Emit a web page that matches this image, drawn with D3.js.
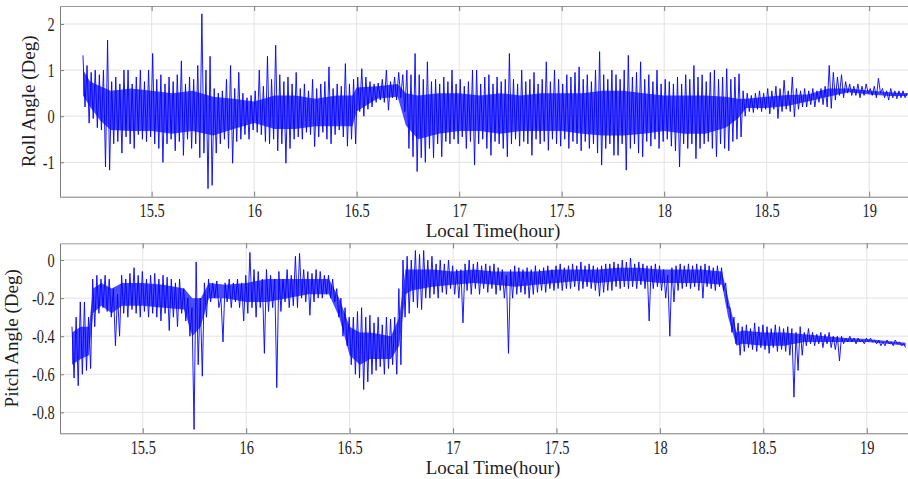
<!DOCTYPE html>
<html>
<head>
<meta charset="utf-8">
<script src="https://cdn.jsdelivr.net/npm/d3@7"></script>
<style>
  html, body { margin: 0; padding: 0; background: #fff; }
  svg { display: block; font-family: "Liberation Serif", "Times New Roman", serif; }
</style>
</head>
<body>
<svg id="chart" width="908" height="479"></svg>
<script>
// Attitude record: each bin holds the highest and lowest sample seen in it.
const binStep = 0.02; // hours per bin

// Roll angle (deg), bins start at 15.165 h
const rollStart = 15.165;
const rollHigh = [
  1.32, 1.1, 0.95, 1.0, 0.9, 1.0, 1.65, 0.75, 0.85, 0.7,
  1.0, 1.0, 0.7, 0.85, 1.0, 0.75, 1.0, 1.36, 0.8, 0.9,
  0.7, 0.85, 0.75, 0.9, 1.2, 0.7, 0.85, 0.8, 1.1, 2.22,
  1.0, 1.3, 0.6, 0.5, 0.55, 0.8, 1.1, 0.6, 0.95, 0.5,
  0.4, 0.45, 0.55, 1.0, 0.65, 1.3, 0.8, 1.54, 0.9, 0.75,
  0.85, 0.7, 0.95, 0.6, 0.7, 0.55, 0.8, 0.6, 0.7, 0.75,
  1.07, 0.6, 0.7, 0.65, 1.14, 0.7, 0.8, 0.85, 1.03, 0.85,
  0.75, 0.7, 0.72, 0.8, 1.0, 0.75, 0.85, 0.95, 0.9, 1.0,
  0.9, 1.36, 0.9, 0.8, 1.18, 0.75, 0.8, 0.7, 0.85, 0.75,
  1.0, 0.7, 0.8, 0.65, 0.75, 1.0, 1.0, 0.7, 0.85, 0.9,
  0.7, 0.85, 0.75, 0.8, 1.36, 0.8, 0.7, 1.0, 0.75, 0.8,
  0.95, 0.7, 0.8, 1.18, 0.75, 1.0, 0.8, 0.7, 0.9, 0.85,
  0.95, 1.07, 0.8, 0.9, 0.75, 1.0, 1.4, 0.9, 0.8, 1.0,
  0.9, 0.8, 1.0, 1.32, 0.85, 0.95, 1.18, 0.8, 0.9, 0.75,
  1.0, 0.7, 0.8, 0.75, 0.7, 0.85, 0.7, 0.9, 0.8, 1.1,
  0.85, 0.9, 0.75, 0.95, 1.0, 0.8, 0.85, 1.03, 0.8, 0.85,
  0.92, 0.55, 0.5, 0.45, 0.5, 0.55, 0.5, 0.6, 0.55, 0.65,
  0.6, 0.78, 0.55, 0.85, 0.6, 0.55, 0.6, 0.55, 0.6, 0.55,
  0.6, 0.65, 1.1, 0.95, 0.85, 0.9, 0.75, 0.7, 0.65, 0.7,
  0.65, 0.7, 0.6, 0.65, 0.82, 0.6, 0.55, 0.6, 0.55, 0.55,
  0.55, 0.5
];
const rollLow = [
  0.2, -0.15, -0.05, -0.25, -0.3, -1.1, -1.17, -0.6, -0.55, -0.8,
  -0.45, -0.6, -0.7, -0.4, -0.5, -0.55, -0.45, -0.6, -0.7, -1.0,
  -0.6, -0.5, -0.75, -0.55, -0.85, -0.5, -0.7, -0.6, -0.9, -0.8,
  -1.57, -1.5, -0.8, -0.6, -0.5, -0.7, -1.02, -0.55, -0.5, -0.4,
  -0.5, -0.3, -0.35, -0.4, -0.55, -0.6, -0.5, -0.75, -0.6, -1.02,
  -0.7, -0.5, -0.45, -0.5, -0.35, -0.4, -0.66, -0.45, -0.35, -0.5,
  -0.6, -0.4, -0.3, -0.45, -0.65, -0.5, -0.6, 0.1, 0.0, 0.15,
  0.2, 0.3, 0.35, 0.3, 0.13, 0.4, 0.35, 0.4, 0.1, -0.7,
  -0.88, -1.2, -0.9, -1.0, -0.7, -0.9, -0.6, -0.88, -0.55, -0.6,
  -0.5, -0.6, -0.45, -0.7, -0.55, -1.06, -0.6, -0.5, -0.7, -0.85,
  -0.55, -0.6, -0.7, -0.88, -0.6, -0.5, -0.65, -0.55, -0.6, -0.85,
  -0.5, -0.6, -0.55, -0.74, -0.5, -0.6, -0.65, -0.5, -0.7, -0.55,
  -0.6, -0.75, -0.55, -0.7, -0.6, -0.8, -1.06, -0.7, -0.6, -0.85,
  -0.85, -0.6, -1.17, -0.7, -0.6, -0.8, -0.88, -0.55, -0.65, -0.5,
  -0.7, -0.55, -0.5, -0.65, -0.75, -1.1, -0.6, -0.7, -0.6, -0.92,
  -0.7, -0.6, -0.55, -0.7, -0.88, -0.6, -0.7, -0.75, -0.55, -0.5,
  -0.45, 0.0, 0.1, 0.08, 0.15, 0.1, 0.15, 0.05, 0.15, -0.05,
  0.1, 0.15, 0.1, -0.01, 0.15, 0.2, 0.2, 0.25, 0.2, 0.3,
  0.25, 0.2, 0.17, 0.35, 0.45, 0.4, 0.5, 0.45, 0.45, 0.4,
  0.45, 0.5, 0.45, 0.4, 0.5, 0.4, 0.35, 0.4, 0.38, 0.4,
  0.4, 0.42
];
// Dense core of the roll trace (where most samples fall)
const rollCoreTime = [15.165, 15.2, 15.25, 15.3, 15.4, 15.5, 15.6, 15.7, 15.8, 15.9,
  16.0, 16.1, 16.2, 16.3, 16.4, 16.48, 16.5, 16.6, 16.7, 16.74, 16.8, 16.9,
  17.0, 17.1, 17.2, 17.3, 17.4, 17.5, 17.6, 17.7, 17.8, 17.9, 18.0, 18.1,
  18.2, 18.3, 18.36, 18.4, 18.5, 18.6, 18.7, 18.8, 18.9, 19.0, 19.1, 19.185];
const rollCoreHigh = [1.0, 0.75, 0.65, 0.55, 0.6, 0.55, 0.5, 0.55, 0.42, 0.38,
  0.32, 0.45, 0.45, 0.38, 0.45, 0.45, 0.62, 0.65, 0.7, 0.5, 0.45, 0.5,
  0.5, 0.45, 0.5, 0.45, 0.5, 0.5, 0.5, 0.55, 0.55, 0.5, 0.45, 0.45,
  0.45, 0.42, 0.38, 0.38, 0.42, 0.46, 0.47, 0.6, 0.6, 0.56, 0.52, 0.5];
const rollCoreLow = [0.45, 0.2, -0.1, -0.3, -0.32, -0.32, -0.38, -0.32, -0.42, -0.28,
  -0.15, -0.28, -0.28, -0.22, -0.22, -0.22, 0.1, 0.38, 0.42, -0.2, -0.5, -0.38,
  -0.32, -0.32, -0.38, -0.32, -0.32, -0.32, -0.38, -0.42, -0.42, -0.38, -0.32, -0.38,
  -0.38, -0.25, -0.05, 0.18, 0.18, 0.22, 0.32, 0.42, 0.52, 0.47, 0.44, 0.44];

// Pitch angle (deg), bins start at 15.158 h
const pitchStart = 15.158;
const pitchHigh = [
  -0.35, -0.3, -0.22, -0.22, -0.3, -0.1, -0.08, -0.1, -0.08, -0.1,
  -0.15, -0.18, -0.08, -0.1, -0.07, -0.04, -0.08, -0.06, -0.1, -0.08,
  -0.07, -0.1, -0.08, -0.09, -0.1, -0.12, -0.1, -0.15, -0.2, -0.25,
  -0.01, -0.2, -0.12, -0.1, -0.12, -0.11, -0.2, -0.12, -0.1, -0.12,
  -0.1, -0.12, -0.08, 0.04, -0.05, -0.06, -0.1, -0.05, -0.08, -0.1,
  -0.06, -0.1, -0.05, -0.08, 0.02, 0.035, -0.05, -0.06, -0.07, -0.05,
  -0.06, -0.08, -0.08, -0.1, -0.15, -0.2, -0.25, -0.3, -0.3, -0.27,
  -0.25, -0.3, -0.29, -0.33, -0.3, -0.34, -0.3, -0.31, -0.3, -0.15,
  0.0, 0.02, 0.0, 0.05, 0.03, 0.05, 0.0, 0.02, -0.02, 0.0,
  -0.02, 0.0, -0.03, -0.05, -0.05, -0.02, 0.0, -0.02, -0.01, -0.03,
  -0.02, -0.03, -0.02, -0.04, -0.05, -0.08, -0.05, -0.03, -0.04, -0.05,
  -0.04, -0.05, -0.03, -0.05, -0.04, -0.03, -0.05, -0.03, -0.02, -0.04,
  -0.03, -0.02, -0.03, -0.01, -0.03, -0.02, -0.03, -0.04, -0.03, -0.02,
  -0.02, -0.01, -0.02, 0.0, -0.01, 0.01, -0.02, -0.01, -0.02, -0.03,
  -0.03, -0.02, -0.03, -0.05, -0.08, -0.04, -0.03, -0.02, -0.03, -0.02,
  -0.03, -0.02, -0.03, -0.02, -0.03, -0.04, -0.03, -0.04, -0.12, -0.25,
  -0.3, -0.33, -0.35, -0.34, -0.36, -0.33, -0.35, -0.34, -0.35, -0.36,
  -0.34, -0.35, -0.36, -0.35, -0.36, -0.38, -0.35, -0.38, -0.36, -0.38,
  -0.39, -0.38, -0.39, -0.38, -0.4, -0.4, -0.4, -0.41, -0.4, -0.41,
  -0.41, -0.42, -0.41, -0.41, -0.42, -0.42, -0.43, -0.42, -0.43, -0.42,
  -0.43, -0.44
];
const pitchLow = [
  -0.62, -0.66, -0.6, -0.58, -0.57, -0.35, -0.28, -0.25, -0.27, -0.3,
  -0.45, -0.4, -0.28, -0.3, -0.26, -0.28, -0.3, -0.27, -0.3, -0.28,
  -0.3, -0.32, -0.28, -0.37, -0.3, -0.35, -0.28, -0.32, -0.4, -0.89,
  -0.55, -0.61, -0.3, -0.22, -0.2, -0.25, -0.43, -0.22, -0.25, -0.22,
  -0.25, -0.32, -0.28, -0.25, -0.3, -0.25, -0.49, -0.27, -0.25, -0.67,
  -0.27, -0.22, -0.25, -0.24, -0.25, -0.2, -0.22, -0.29, -0.22, -0.2,
  -0.2, -0.18, -0.2, -0.22, -0.3, -0.4, -0.45, -0.55, -0.6, -0.62,
  -0.68, -0.64, -0.6, -0.58, -0.56, -0.6, -0.57, -0.55, -0.6, -0.55,
  -0.3, -0.28, -0.22, -0.25, -0.26, -0.2, -0.2, -0.18, -0.2, -0.17,
  -0.18, -0.15, -0.18, -0.2, -0.33, -0.16, -0.18, -0.15, -0.18, -0.15,
  -0.17, -0.15, -0.18, -0.16, -0.2, -0.49, -0.2, -0.18, -0.17, -0.18,
  -0.2, -0.18, -0.17, -0.16, -0.17, -0.15, -0.16, -0.15, -0.16, -0.15,
  -0.15, -0.14, -0.16, -0.15, -0.14, -0.15, -0.16, -0.19, -0.17, -0.16,
  -0.16, -0.14, -0.15, -0.14, -0.15, -0.14, -0.15, -0.13, -0.15, -0.32,
  -0.15, -0.14, -0.16, -0.2, -0.4, -0.22, -0.16, -0.15, -0.14, -0.15,
  -0.14, -0.16, -0.2, -0.14, -0.15, -0.16, -0.14, -0.16, -0.25, -0.38,
  -0.44, -0.5, -0.48, -0.46, -0.47, -0.48, -0.46, -0.47, -0.49, -0.46,
  -0.48, -0.47, -0.48, -0.5, -0.72, -0.58, -0.5, -0.45, -0.44, -0.45,
  -0.44, -0.46, -0.44, -0.46, -0.47, -0.53, -0.44, -0.43, -0.43, -0.44,
  -0.43, -0.44, -0.43, -0.43, -0.44, -0.45, -0.45, -0.44, -0.45, -0.44,
  -0.45, -0.46
];
// Dense core of the pitch trace
const pitchCoreTime = [15.158, 15.2, 15.24, 15.26, 15.3, 15.35, 15.4, 15.5, 15.6, 15.7,
  15.74, 15.78, 15.82, 15.9, 16.0, 16.1, 16.2, 16.3, 16.4, 16.45, 16.5, 16.55,
  16.6, 16.7, 16.74, 16.77, 16.8, 16.9, 17.0, 17.1, 17.2, 17.3, 17.4, 17.5,
  17.6, 17.7, 17.8, 17.9, 18.0, 18.1, 18.2, 18.3, 18.33, 18.37, 18.4, 18.5,
  18.6, 18.7, 18.8, 18.9, 19.0, 19.1, 19.188];
const pitchCoreHigh = [-0.38, -0.35, -0.35, -0.15, -0.12, -0.15, -0.12, -0.12, -0.13, -0.15,
  -0.2, -0.2, -0.12, -0.13, -0.12, -0.1, -0.1, -0.1, -0.1, -0.2, -0.35, -0.38,
  -0.38, -0.4, -0.3, -0.05, -0.05, -0.05, -0.06, -0.05, -0.06, -0.06, -0.06, -0.05,
  -0.05, -0.05, -0.04, -0.04, -0.05, -0.05, -0.05, -0.06, -0.2, -0.38, -0.37, -0.38,
  -0.38, -0.39, -0.4, -0.41, -0.415, -0.425, -0.435];
const pitchCoreLow = [-0.55, -0.52, -0.5, -0.28, -0.24, -0.28, -0.24, -0.24, -0.25, -0.26,
  -0.4, -0.35, -0.2, -0.2, -0.22, -0.22, -0.2, -0.18, -0.18, -0.3, -0.5, -0.55,
  -0.52, -0.52, -0.45, -0.18, -0.16, -0.14, -0.13, -0.12, -0.13, -0.14, -0.13, -0.12,
  -0.11, -0.12, -0.11, -0.11, -0.12, -0.12, -0.12, -0.13, -0.3, -0.45, -0.44, -0.45,
  -0.45, -0.43, -0.43, -0.43, -0.43, -0.44, -0.45];

// Axis ticks and labels
const timeTicks = [15.5, 16, 16.5, 17, 17.5, 18, 18.5, 19];
const timeTickLabels = ["15.5", "16", "16.5", "17", "17.5", "18", "18.5", "19"];
const rollTicks = [-1, 0, 1, 2];
const rollTickLabels = ["-1", "0", "1", "2"];
const pitchTicks = [-0.8, -0.6, -0.4, -0.2, 0];
const pitchTickLabels = ["-0.8", "-0.6", "-0.4", "-0.2", "0"];
const timeTitle = "Local Time(hour)";
const rollTitle = "Roll Angle (Deg)";
const pitchTitle = "Pitch Angle (Deg)";

const svg = d3.select("#chart");
svg.append("rect").attr("width", 908).attr("height", 479).attr("fill", "#fff");

const plotLeft = 60, plotRight = 910;
const gridColor = "#e3e3e3", axisColor = "#7c7c7c", textColor = "#1e1e1e";
const traceColor = "#0000ff";

function drawPanel(p) {
  const x = d3.scaleLinear().domain(p.xDomain).range([plotLeft, plotRight]);
  const y = d3.scaleLinear().domain(p.yDomain).range([p.bottom, p.top]);
  const g = svg.append("g");

  g.append("clipPath").attr("id", p.id + "-clip")
    .append("rect").attr("x", plotLeft).attr("y", p.top)
    .attr("width", plotRight - plotLeft).attr("height", p.bottom - p.top);

  // grid
  g.selectAll(".vgrid").data(p.xTicks).join("line")
    .attr("x1", d => x(d)).attr("x2", d => x(d))
    .attr("y1", p.top).attr("y2", p.bottom)
    .attr("stroke", gridColor).attr("stroke-width", 1);
  g.selectAll(".hgrid").data(p.yTicks).join("line")
    .attr("x1", plotLeft).attr("x2", plotRight)
    .attr("y1", d => y(d)).attr("y2", d => y(d))
    .attr("stroke", gridColor).attr("stroke-width", 1);

  const traceG = g.append("g").attr("clip-path", `url(#${p.id}-clip)`);

  // dense core band
  const core = p.coreTime.map((t, i) => [t, p.coreHigh[i], p.coreLow[i]]);
  traceG.append("path")
    .attr("d", d3.area().x(d => x(d[0])).y0(d => y(d[2])).y1(d => y(d[1]))(core))
    .attr("fill", traceColor)
    .attr("fill-opacity", 0.7);

  // trace: each bin drawn from its high to its low sample
  const pts = [];
  p.high.forEach((h, i) => {
    const t = p.start + i * binStep;
    pts.push([t, h]);
    pts.push([t + binStep / 2, p.low[i]]);
  });
  traceG.append("path")
    .attr("d", d3.line().x(d => x(d[0])).y(d => y(d[1]))(pts))
    .attr("fill", "none")
    .attr("stroke", traceColor)
    .attr("stroke-width", 0.9)
    .attr("stroke-linejoin", "round");

  // top border with inward ticks
  const topAxis = g.append("g").attr("transform", `translate(0,${p.top})`)
    .call(d3.axisTop(x).tickValues(p.xTicks).tickFormat("").tickSizeInner(-5).tickSizeOuter(0));
  topAxis.select(".domain").attr("stroke", "#9a9a9a");
  topAxis.selectAll(".tick line").attr("stroke", axisColor);

  // bottom axis
  const bottomAxis = g.append("g").attr("transform", `translate(0,${p.bottom})`)
    .call(d3.axisBottom(x).tickValues(p.xTicks)
      .tickFormat((d, i) => p.xLabels[i]).tickSizeInner(-5).tickSizeOuter(0));
  bottomAxis.select(".domain").attr("stroke", axisColor);
  bottomAxis.selectAll(".tick line").attr("stroke", axisColor);
  bottomAxis.selectAll(".tick text")
    .attr("y", 20.5).attr("dy", null)
    .attr("transform", "scale(0.8,1)")
    .attr("fill", textColor)
    .style("font-size", "18px")
    .style("font-family", "'Liberation Serif', serif");

  // left axis
  const leftAxis = g.append("g").attr("transform", `translate(${plotLeft},0)`)
    .call(d3.axisLeft(y).tickValues(p.yTicks)
      .tickFormat((d, i) => p.yLabels[i]).tickSizeInner(-4).tickSizeOuter(0));
  leftAxis.select(".domain").attr("stroke", axisColor);
  leftAxis.selectAll(".tick line").attr("stroke", axisColor);
  leftAxis.selectAll(".tick text")
    .attr("x", -6.5).attr("dy", "0.34em")
    .attr("transform", "scale(0.8,1)")
    .attr("fill", textColor)
    .style("font-size", "18px")
    .style("font-family", "'Liberation Serif', serif");

  // axis titles
  g.append("text")
    .attr("x", 493).attr("y", p.bottom + 40.5)
    .attr("text-anchor", "middle")
    .attr("fill", textColor)
    .style("font-size", "19px")
    .text(timeTitle);
  g.append("text")
    .attr("transform", `translate(${p.titleX},${(p.top + p.bottom) / 2}) rotate(-90)`)
    .attr("text-anchor", "middle")
    .attr("fill", textColor)
    .style("font-size", "19px")
    .text(p.title);
}

drawPanel({
  id: "roll",
  top: 6, bottom: 196.7,
  xDomain: [15.053, 19.199], yDomain: [-1.746, 2.39],
  xTicks: timeTicks, xLabels: timeTickLabels,
  yTicks: rollTicks, yLabels: rollTickLabels,
  start: rollStart, high: rollHigh, low: rollLow,
  coreTime: rollCoreTime, coreHigh: rollCoreHigh, coreLow: rollCoreLow,
  title: rollTitle, titleX: 35
});

drawPanel({
  id: "pitch",
  top: 243.3, bottom: 433.3,
  xDomain: [15.100, 19.209], yDomain: [-0.910, 0.088],
  xTicks: timeTicks, xLabels: timeTickLabels,
  yTicks: pitchTicks, yLabels: pitchTickLabels,
  start: pitchStart, high: pitchHigh, low: pitchLow,
  coreTime: pitchCoreTime, coreHigh: pitchCoreHigh, coreLow: pitchCoreLow,
  title: pitchTitle, titleX: 18
});
</script>
</body>
</html>
